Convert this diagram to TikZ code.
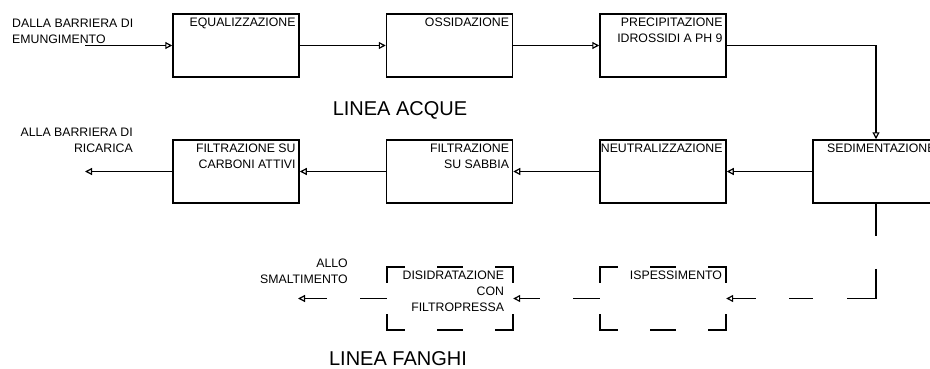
\documentclass[tikz,border=0pt]{standalone}
\usepackage{fontspec}
\setmainfont{Liberation Sans}
\usetikzlibrary{arrows.meta}

\tikzset{
  box/.style={draw, line width=1.5pt, minimum width=126pt, minimum height=63pt, inner sep=0pt},
  lbox/.style={minimum width=126pt, minimum height=63pt, inner sep=0pt},
  txt/.style={inner sep=0pt, align=right},
  lbl/.style={txt, anchor=north east, xshift=-4pt, yshift=-4pt},
  flow/.style={line width=1.2pt, -{Triangle[open, length=7pt, width=7pt, line width=1.2pt]}},
  sludge/.style={dash pattern=on 27pt off 33pt},
  hdash/.style={line width=1.5pt, line cap=rect, dash pattern=on 17pt off 34pt on 24pt off 34pt on 17pt},
  vdash/.style={line width=1.5pt, line cap=rect, dash pattern=on 15pt off 33pt on 15pt},
}

\begin{document}
\begin{tikzpicture}[x=1pt, y=-1pt, every node/.style={font=\fontsize{12.3}{16}\selectfont}]
  \useasboundingbox (0,0) rectangle (930,369);

  % linea acque
  \node[box, label={[lbl]north east:EQUALIZZAZIONE}] (equal) at (236,45.5) {};
  \node[box, label={[lbl]north east:OSSIDAZIONE}] (ossid) at (449.5,45.5) {};
  \node[box, label={[lbl]north east:PRECIPITAZIONE\\IDROSSIDI A PH 9}] (precip) at (663,45.5) {};
  \node[box, label={[lbl]north east:SEDIMENTAZIONE}] (sedim) at (876,171.5) {};
  \node[box, label={[lbl]north east:NEUTRALIZZAZIONE}] (neutr) at (663,171.5) {};
  \node[box, label={[lbl]north east:FILTRAZIONE\\SU SABBIA}] (sabbia) at (449.5,171.5) {};
  \node[box, label={[lbl]north east:FILTRAZIONE SU\\CARBONI ATTIVI}] (carboni) at (236,171.5) {};

  % linea fanghi
  \node[lbox, label={[lbl]north east:ISPESSIMENTO}] (ispess) at (663,298.5) {};
  \node[lbox, label={[lbl, xshift=-5pt]north east:DISIDRATAZIONE\\CON\\FILTROPRESSA}] (disid) at (450,298.5) {};
  \foreach \n in {ispess,disid} {
    \draw[hdash] (\n.north west) -- (\n.north east);
    \draw[hdash] (\n.south west) -- (\n.south east);
    \draw[vdash] (\n.north west) -- (\n.south west);
    \draw[vdash] (\n.north east) -- (\n.south east);
  }

  \node[txt, align=left, anchor=north west] (dalla) at (12,18.5) {DALLA BARRIERA DI\\EMUNGIMENTO};
  \node[txt, anchor=north east] (alla) at (133,127.5) {ALLA BARRIERA DI\\RICARICA};
  \node[txt, anchor=north east] (allo) at (348,258.5) {ALLO\\SMALTIMENTO};
  \node[font=\fontsize{20}{24}\selectfont, inner sep=0pt, anchor=base] (acque) at (400,115) {LINEA ACQUE};
  \node[font=\fontsize{20}{24}\selectfont, inner sep=0pt, anchor=base] (fanghi) at (398,365.5) {LINEA FANGHI};

  \coordinate (inlet) at (85,45.5);
  \coordinate (outlet) at (85,171.5);
  \coordinate (scarico) at (298,298.5);

  \draw[flow] (inlet) -- (equal);
  \draw[flow] (equal) -- (ossid);
  \draw[flow] (ossid) -- (precip);
  \draw[flow] (precip) -| (sedim);
  \draw[flow] (sedim) -- (neutr);
  \draw[flow] (neutr) -- (sabbia);
  \draw[flow] (sabbia) -- (carboni);
  \draw[flow] (carboni) -- (outlet);
  \draw[flow, dash pattern=on 32pt off 33pt on 59pt off 34pt on 24pt off 33pt on 30pt off 10pt] (sedim) |- (ispess);
  \draw[flow, sludge] (ispess) -- (disid);
  \draw[flow, sludge] (disid) -- (scarico);
\end{tikzpicture}
\end{document}
